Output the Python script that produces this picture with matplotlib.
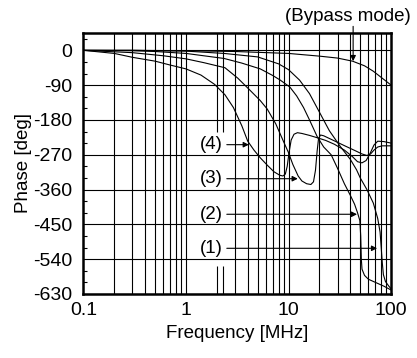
import matplotlib
matplotlib.use("Agg")
import matplotlib.pyplot as plt
import numpy as np

plt.rcParams["font.family"] = ["Liberation Sans", "DejaVu Sans"]
plt.rcParams["axes.unicode_minus"] = False

# curve data (frequency in MHz, phase in deg)
freq_bypass = [0.1, 0.3, 1.0, 3.0, 10, 20, 30, 42, 55, 67, 80, 100]
phase_bypass = [0, 0, -1, -3, -8, -15, -20, -28, -40, -54, -70, -90]

freq_1 = [0.1, 0.3, 1.0, 2.35, 5.0, 8.0, 10, 12.8, 16, 20, 25, 32, 40, 46, 50, 58,
          67, 74, 78, 80, 82, 84, 88, 95, 100]
phase_1 = [0, 0, -2, -8, -17, -35, -50, -77, -112, -160, -208, -249, -282, -309, -330,
           -360, -395, -435, -470, -510, -550, -580, -598, -610, -617]

freq_2 = [0.1, 0.3, 0.5, 1.0, 2.35, 3.5, 5.3, 7.0, 8.3, 10.3, 12, 14, 16, 19, 22, 26,
          30, 35, 40, 44, 47, 49.5, 50.5, 51.2, 52, 55, 60, 70, 85, 100]
phase_2 = [0, -1, -3, -8, -21, -33, -48, -65, -77, -95, -118, -148, -180, -223, -250,
           -270, -305, -345, -375, -398, -420, -440, -480, -540, -566, -582, -592,
           -600, -610, -620]

freq_3 = [0.1, 0.3, 0.6, 1.0, 1.5, 2.4, 3.2, 4.2, 5.3, 6.2, 7.5, 8.9, 10, 11, 12.4,
          13.5, 15, 16.5, 17.5, 18.3, 19, 19.6, 20.5, 22, 25, 30, 36, 45, 52, 58, 63,
          68, 74, 82, 100]
phase_3 = [0, -6, -14, -22, -32, -45, -72, -103, -130, -152, -190, -235, -265, -295,
           -325, -338, -345, -347, -340, -310, -260, -228, -219, -221, -228, -238,
           -248, -260, -268, -272, -268, -258, -250, -247, -247]

freq_4 = [0.1, 0.2, 0.3, 0.5, 0.7, 1.0, 1.4, 1.9, 2.4, 2.9, 3.5, 4.0, 4.6, 5.3, 6.2,
          7.2, 8.2, 8.8, 9.3, 9.7, 10.1, 10.6, 11.3, 12.2, 13.5, 16, 19, 23, 28, 35,
          42, 47, 52, 57, 62, 68, 74, 85, 100]
phase_4 = [0, -8, -18, -28, -38, -48, -64, -88, -115, -148, -195, -235, -258, -278,
           -297, -314, -323, -325, -320, -300, -265, -232, -217, -213, -215, -220,
           -226, -233, -243, -258, -275, -288, -291, -285, -268, -245, -235, -236, -240]

x_labels = ["0.1", "1", "10", "100"]
x_ticks = [0.1, 1, 10, 100]
y_ticks = list(range(-630, 1, 90))

# label text, arrow tip (freq, phase)
curve_labels = [
    ("(4)", 4.1, -244),
    ("(3)", 12.3, -332),
    ("(2)", 46.5, -424),
    ("(1)", 73.0, -512),
]


def main() -> None:
    fig = plt.figure(figsize=(4.17, 3.58), dpi=100)
    ax = fig.add_axes([0.2, 0.179, 0.738, 0.729])

    ax.set_xscale("log")
    ax.set_xlim(0.1, 100)
    ax.set_ylim(-630, 45)

    # grid drawn by hand: the line at 2 MHz is broken behind the labels
    grid_freqs = [m * 10.0 ** e for e in (-1, 0, 1) for m in range(1, 10)]
    for f in grid_freqs[1:]:
        if abs(f - 2.0) < 1e-9:
            continue
        ax.axvline(f, color="black", lw=0.8, zorder=1)
    for f in (2.0, 2.28):
        ax.vlines(f, -211, 45, color="black", lw=0.8, zorder=1)
        ax.vlines(f, -558, -630, color="black", lw=0.8, zorder=1)
    for p in y_ticks:
        ax.axhline(p, color="black", lw=0.8, zorder=1)

    for fr, ph in [(freq_bypass, phase_bypass), (freq_1, phase_1), (freq_2, phase_2),
                   (freq_3, phase_3), (freq_4, phase_4)]:
        ax.plot(fr, ph, color="black", lw=0.8, zorder=3)

    for text, tip_f, tip_p in curve_labels:
        ax.text(2.27, tip_p, text, ha="right", va="center", fontsize=13.5, zorder=4)
        ax.annotate("", xy=(tip_f, tip_p), xytext=(2.5, tip_p),
                    arrowprops=dict(arrowstyle="-|>", lw=0.8, color="black",
                                    mutation_scale=8, shrinkA=0, shrinkB=0),
                    zorder=4)

    # bypass mode annotation above the frame
    ax.annotate("", xy=(42.6, -28), xytext=(42.6, 62),
                arrowprops=dict(arrowstyle="-|>", lw=0.8, color="black",
                                mutation_scale=8, shrinkA=0, shrinkB=0),
                annotation_clip=False)
    fig.text(0.985, 0.955, "(Bypass mode)", ha="right", va="center", fontsize=13.5)

    ax.set_xticks(x_ticks)
    ax.set_xticklabels(x_labels)
    ax.xaxis.set_minor_locator(plt.NullLocator())
    ax.set_yticks(y_ticks)
    ax.set_yticks(list(range(-600, 45, 30)), minor=True)
    ax.tick_params(axis="both", which="major", length=0, labelsize=14)
    ax.tick_params(axis="y", which="major", pad=8)
    ax.tick_params(axis="x", which="major", pad=6)
    ax.tick_params(axis="y", which="minor", direction="in", length=3, width=0.8)

    for spine in ax.spines.values():
        spine.set_linewidth(1.8)
        spine.set_zorder(5)

    ax.set_xlabel("Frequency [MHz]", fontsize=13.5, labelpad=4)
    ax.set_ylabel("Phase [deg]", fontsize=13.5, labelpad=1)

    fig.savefig("out.png", dpi=100)
    plt.close(fig)


if __name__ == "__main__":
    main()
